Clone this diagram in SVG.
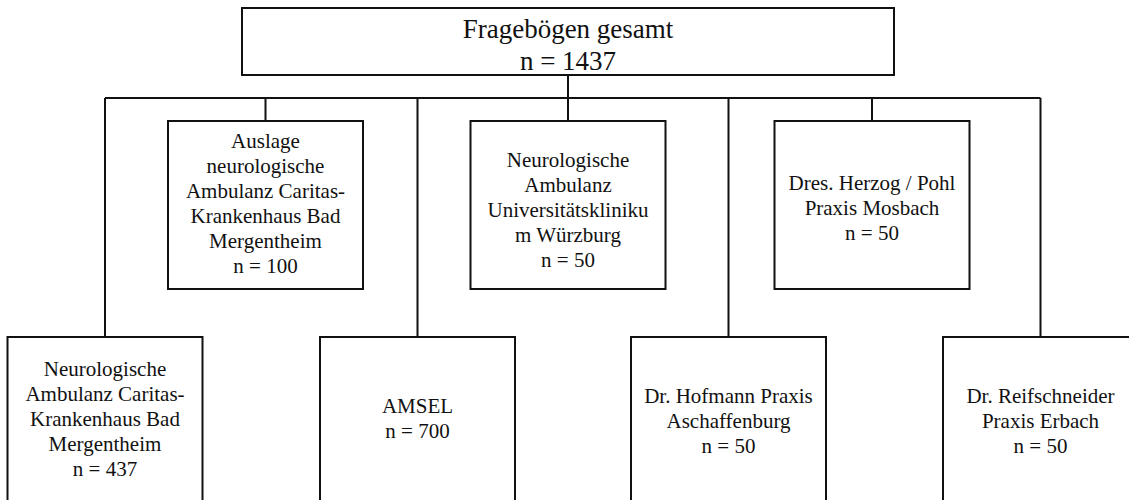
<svg xmlns="http://www.w3.org/2000/svg" width="1129" height="500" viewBox="0 0 1129 500">
<style>
.box{fill:#fff;stroke:#111;stroke-width:2}
.ln{stroke:#111;stroke-width:2;fill:none}
text{font-family:"Liberation Serif","Times New Roman",serif;fill:#111;text-anchor:middle;font-size:21px}
.big{font-size:27px}
</style>
<rect width="1129" height="500" fill="#fff"/>
<g id="connectors">
<path class="ln" d="M568 75V98M105 98H1040.5M105 98V337M265.5 98V121M417.5 98V337M568 98V121M728.5 98V337M872 98V121M1040.5 98V337"/>
</g>
<g id="root">
<rect class="box" x="242" y="8" width="652" height="67"/>
<text class="big" x="568" y="38">Fragebögen gesamt</text>
<text class="big" x="568" y="70">n = 1437</text>
</g>
<g id="auslage">
<rect class="box" x="168" y="121" width="195" height="168"/>
<text x="265.5" y="148">Auslage</text>
<text x="265.5" y="173">neurologische</text>
<text x="265.5" y="198">Ambulanz Caritas-</text>
<text x="265.5" y="223">Krankenhaus Bad</text>
<text x="265.5" y="248">Mergentheim</text>
<text x="265.5" y="273">n = 100</text>
</g>
<g id="uniklinik">
<rect class="box" x="470.5" y="121" width="195" height="168"/>
<text x="568" y="167">Neurologische</text>
<text x="568" y="192">Ambulanz</text>
<text x="568" y="217">Universitätskliniku</text>
<text x="568" y="242">m Würzburg</text>
<text x="568" y="267">n = 50</text>
</g>
<g id="mosbach">
<rect class="box" x="774.5" y="121" width="195" height="168"/>
<text x="872" y="190">Dres. Herzog / Pohl</text>
<text x="872" y="215">Praxis Mosbach</text>
<text x="872" y="240">n = 50</text>
</g>
<g id="caritas">
<rect class="box" x="7.5" y="337" width="195" height="168"/>
<text x="105" y="376">Neurologische</text>
<text x="105" y="401">Ambulanz Caritas-</text>
<text x="105" y="426">Krankenhaus Bad</text>
<text x="105" y="451">Mergentheim</text>
<text x="105" y="476">n = 437</text>
</g>
<g id="amsel">
<rect class="box" x="320" y="337" width="195" height="168"/>
<text x="417.5" y="413">AMSEL</text>
<text x="417.5" y="438">n = 700</text>
</g>
<g id="hofmann">
<rect class="box" x="631" y="337" width="195" height="168"/>
<text x="728.5" y="403">Dr. Hofmann Praxis</text>
<text x="728.5" y="428">Aschaffenburg</text>
<text x="728.5" y="453">n = 50</text>
</g>
<g id="reifschneider">
<rect class="box" x="943" y="337" width="195" height="168"/>
<text x="1040.5" y="403">Dr. Reifschneider</text>
<text x="1040.5" y="428">Praxis Erbach</text>
<text x="1040.5" y="453">n = 50</text>
</g>
</svg>
